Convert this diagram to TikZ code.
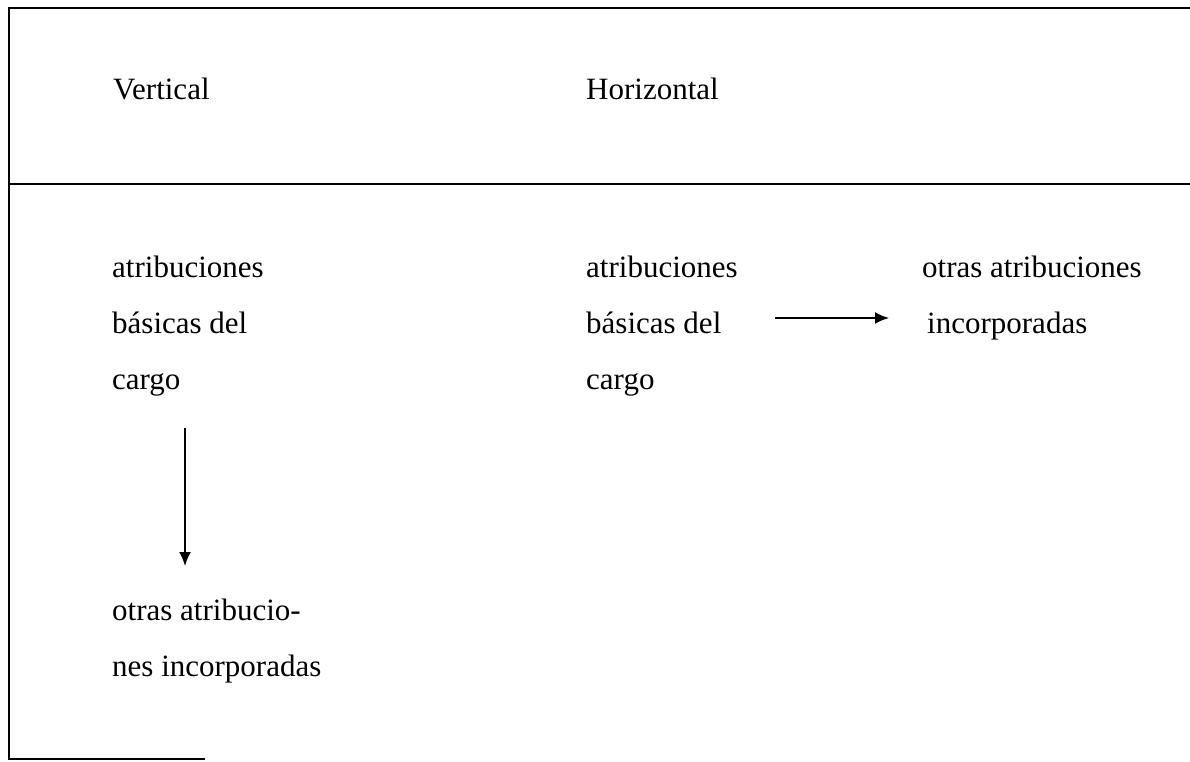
\documentclass[tikz,border=0pt]{standalone}
\usepackage{fontspec}
\setmainfont{Liberation Serif}
\usetikzlibrary{arrows.meta}
\begin{document}
\begin{tikzpicture}[x=1pt,y=-1pt,
  frame/.style={line width=2.2pt,black},
  txt/.style={anchor=base west,inner sep=0pt,align=left,font=\fontsize{31}{56}\selectfont},
  arr/.style={line width=2pt,-{Latex[length=14pt,width=12pt]}}]
\useasboundingbox (0,0) rectangle (1190,762);
% frame
\draw[frame] (1190,8) -- (9,8) -- (9,759) -- (205,759);
\draw[frame] (9,184) -- (1190,184);
% headers
\node[txt] (hv) at (113,100) {Vertical};
\node[txt] (hh) at (586,100) {Horizontal};
% vertical column (base anchor = baseline of last line)
\node[txt] (vb) at (112,389) {atribuciones\\básicas del\\cargo};
\node[txt] (vo) at (112,676) {otras atribucio-\\nes incorporadas};
% horizontal column
\node[txt] (hb) at (586,389) {atribuciones\\básicas del\\cargo};
\node[txt] (ho) at (922,333) {otras atribuciones\\\hspace*{5pt}incorporadas};
% arrows
\coordinate (vs) at (185,428);
\coordinate (ve) at (185,566);
\coordinate (hs) at (775,318);
\coordinate (he) at (889,318);
\draw[arr] (vs) -- (ve);
\draw[arr] (hs) -- (he);
\end{tikzpicture}
\end{document}
